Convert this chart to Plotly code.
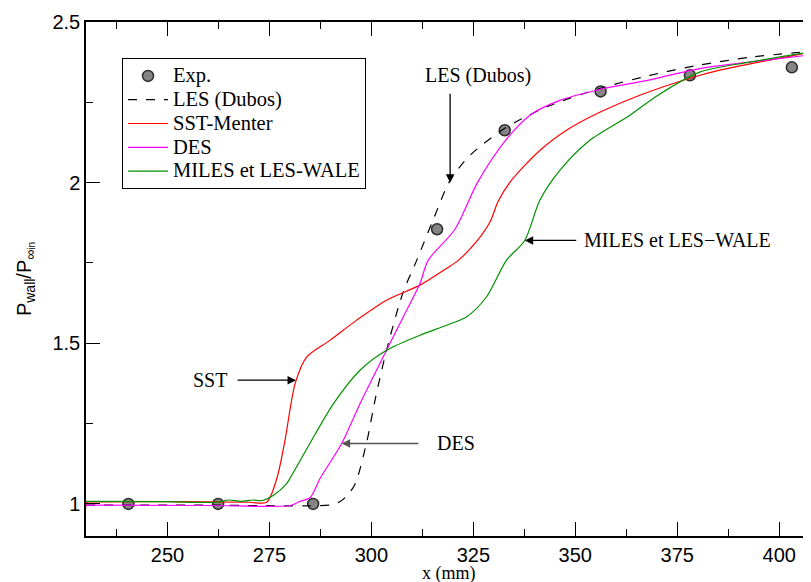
import plotly.graph_objects as go

# ---------------- data ----------------
exp_x = [240.4, 262.4, 285.7, 316.1, 332.7, 356.2, 378.1, 403.1]
exp_y = [1.0, 1.0, 1.0, 1.855, 2.163, 2.284, 2.334, 2.359]

les_x = [230, 260, 290, 292, 294, 296, 298.8, 301, 303.7, 307.7, 311.1, 315, 319.3, 324.2, 332.8,
         343.8, 356, 368.3, 380.5, 392.7, 407.8]
les_y = [0.996, 0.996, 0.997, 1.005, 1.025, 1.062, 1.19, 1.33, 1.478, 1.656, 1.758, 1.88, 2.007, 2.085,
         2.17, 2.24, 2.293, 2.334, 2.366, 2.39, 2.409]

des_x = [230, 260, 280.1, 282.5, 285, 287.4, 292.7, 297.2, 303.7, 307.8, 311.9, 313.9, 320.5, 326,
         332.8, 338.9, 346.2, 356, 368.3, 380.5, 392.7, 407.8]
des_y = [0.996, 0.995, 0.995, 1.008, 1.02, 1.079, 1.188, 1.312, 1.478, 1.582, 1.686, 1.758, 1.855,
         2.0, 2.13, 2.21, 2.256, 2.29, 2.32, 2.355, 2.375, 2.398]

sst_x = [230, 230.2, 231, 250, 270, 274.3, 276.8, 278.8, 281.3, 284.1, 289.8, 296.4, 303.7, 311.9, 318.4,
         321.3, 326, 329.1, 331, 333.9, 341.3, 348.6, 356, 365.8, 378.1, 385.4, 395, 407.8]
sst_y = [0.85, 1.005, 1.006, 1.007, 1.005, 1.005, 1.079, 1.198, 1.375, 1.457, 1.509, 1.572, 1.634, 1.681,
         1.733, 1.758, 1.82, 1.878, 1.94, 2.0, 2.1, 2.169, 2.219, 2.272, 2.325, 2.35, 2.375, 2.406]

mil_x = [230, 250, 262, 265, 268, 271, 273, 276, 279.2, 280, 284.9, 290.7, 297.2, 303.7, 311.9, 318.4,
         323.3, 328.2, 333.1, 337.6, 341.3, 346.2, 353.5, 363.3, 370, 380.5, 392.7, 407.8]
mil_y = [1.008, 1.007, 1.005, 1.012, 1.008, 1.012, 1.01, 1.027, 1.063, 1.079, 1.188, 1.312, 1.416, 1.478,
         1.525, 1.556, 1.582, 1.644, 1.758, 1.82, 1.945, 2.038, 2.131, 2.209, 2.27, 2.344, 2.375, 2.407]

x_range = [230, 407.8]
y_range = [0.9, 2.5]

serif = "Liberation Serif, Times New Roman, serif"
sans = "Liberation Sans, Arial, sans-serif"


def lg(name):
    # legend text drawn larger than the legend font so the rows stay tight
    return "<span style='font-size:20.5px'>" + name + "</span>"


fig = go.Figure()
fig.add_trace(go.Scatter(x=exp_x, y=exp_y, mode="markers", name=lg("Exp."),
                         marker=dict(size=11, color="#858585", line=dict(color="#2b2b2b", width=1.5))))
fig.add_trace(go.Scatter(x=les_x, y=les_y, mode="lines", name=lg("LES (Dubos)"),
                         line=dict(color="black", width=1.2, dash="dash", shape="spline", smoothing=0.8)))
fig.add_trace(go.Scatter(x=sst_x, y=sst_y, mode="lines", name=lg("SST-Menter"),
                         line=dict(color="#ff0000", width=1.2, shape="spline", smoothing=0.8)))
fig.add_trace(go.Scatter(x=des_x, y=des_y, mode="lines", name=lg("DES"),
                         line=dict(color="#ff00ff", width=1.2, shape="spline", smoothing=0.8)))
fig.add_trace(go.Scatter(x=mil_x, y=mil_y, mode="lines", name=lg("MILES et LES-WALE"),
                         line=dict(color="#009000", width=1.2, shape="spline", smoothing=0.8)))
# invisible trace carrying the top axis
fig.add_trace(go.Scatter(x=x_range, y=y_range, xaxis="x2", mode="markers",
                         marker=dict(opacity=0), showlegend=False, hoverinfo="skip"))

axis_common = dict(showgrid=False, zeroline=False, showline=True, linecolor="black", linewidth=1.5,
                   ticks="inside", tickcolor="black", tickwidth=1.2, ticklen=14, automargin=False,
                   tickfont=dict(family=sans, size=20, color="black"))

# the page body has an 8px margin, so the figure is 8px smaller than the window
fig.update_layout(
    width=803, height=574,
    margin=dict(l=78, r=0, t=14, b=46),
    plot_bgcolor="white", paper_bgcolor="white",
    xaxis=dict(range=x_range, tick0=250, dtick=25,
               minor=dict(ticks="inside", ticklen=7, dtick=12.5, tick0=250, tickcolor="black", tickwidth=1.2),
               **axis_common),
    xaxis2=dict(range=x_range, overlaying="x", side="top", tick0=250, dtick=25, showticklabels=False,
                minor=dict(ticks="inside", ticklen=7, dtick=12.5, tick0=250, tickcolor="black", tickwidth=1.2),
                **axis_common),
    yaxis=dict(range=y_range, tick0=1, dtick=0.5,
               minor=dict(ticks="inside", ticklen=7, dtick=0.25, tick0=1, tickcolor="black", tickwidth=1.2),
               **axis_common),
    showlegend=True,
    legend=dict(x=0.0497, y=0.93, xanchor="left", yanchor="top", bgcolor="white",
                bordercolor="black", borderwidth=1, tracegroupgap=0, itemwidth=40,
                font=dict(family=serif, size=16, color="black")),
)

# axis titles
fig.add_annotation(xref="paper", yref="paper", x=-0.084, y=0.5, xanchor="center", yanchor="middle",
                   showarrow=False, textangle=-90,
                   text="P<sub>wall</sub>/P<sub>∞<span style='font-size:10px'>in</span></sub>",
                   font=dict(family=sans, size=20, color="black"))
fig.add_annotation(xref="paper", yref="paper", x=0.5, y=-0.072, xanchor="center", yanchor="middle",
                   showarrow=False, text="x (mm)",
                   font=dict(family=serif, size=18, color="black"))

# arrows
def arrow(hx, hy, tx, ty, color="black"):
    fig.add_annotation(x=hx, y=hy, ax=tx, ay=ty, xref="x", yref="y", axref="x", ayref="y",
                       text="", showarrow=True, arrowhead=2, arrowsize=1.3, arrowwidth=1.3,
                       arrowcolor=color)

def label(x, y, text, anchor="center"):
    fig.add_annotation(x=x, y=y, xref="x", yref="y", text=text, showarrow=False,
                       xanchor=anchor, yanchor="middle",
                       font=dict(family=serif, size=20, color="black"))

arrow(319.3, 2.0, 319.3, 2.281)
label(326.1, 2.334, "LES (Dubos)")
arrow(337.6, 1.82, 350.6, 1.82)
label(351.6, 1.82, "MILES et LES−WALE", anchor="left")
arrow(281.5, 1.385, 266.8, 1.385)
label(260.4, 1.385, "SST")
arrow(292.7, 1.188, 311.9, 1.188, color="#555555")
label(320.7, 1.188, "DES")

fig.write_html("out.html")
